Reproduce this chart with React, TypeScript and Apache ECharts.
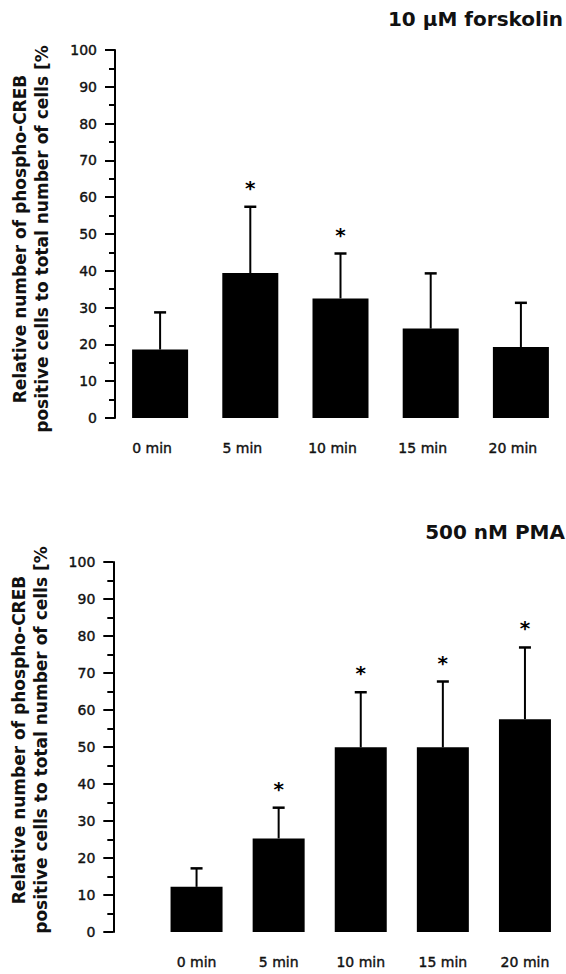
import React, { useEffect, useRef } from "react";
import * as echarts from "echarts";

const categories = ["0 min", "5 min", "10 min", "15 min", "20 min"];
const forskolinMean = [18.6, 39.4, 32.5, 24.3, 19.3];
const forskolinErrTop = [28.7, 57.4, 44.7, 39.3, 31.3];
const forskolinSig = [0, 1, 1, 0, 0];
const pmaMean = [12.2, 25.3, 49.9, 49.9, 57.5];
const pmaErrTop = [17.2, 33.6, 64.8, 67.7, 76.9];
const pmaSig = [0, 1, 1, 1, 1];
const yMin = 0;
const yMax = 100;
const yInterval = 10;
const panelTitles = ["10 µM forskolin", "500 nM PMA"];
const yTitleLines = [
  "Relative number of phospho-CREB",
  "positive cells to total number of cells [%",
];

const FONT = '"DejaVu Sans", "Liberation Sans", sans-serif';

function errorSeries(mean: number[], top: number[], sig: number[], idx: number) {
  return {
    type: "custom",
    xAxisIndex: idx,
    yAxisIndex: idx,
    z: 5,
    data: mean.map((m, i) => [i, m, top[i], sig[i]]),
    renderItem: (params: any, api: any) => {
      const i = api.value(0);
      const m = api.value(1);
      const t = api.value(2);
      const s = api.value(3);
      const p0 = api.coord([i, m]);
      const p1 = api.coord([i, t]);
      const children: any[] = [
        {
          type: "line",
          shape: { x1: p0[0], y1: p0[1], x2: p1[0], y2: p1[1] },
          style: { stroke: "#000", lineWidth: 2 },
        },
        {
          type: "line",
          shape: { x1: p1[0] - 6, y1: p1[1], x2: p1[0] + 6, y2: p1[1] },
          style: { stroke: "#000", lineWidth: 2.5 },
        },
      ];
      if (s) {
        children.push({
          type: "text",
          x: p1[0],
          y: p1[1] - 19,
          style: {
            text: "*",
            fill: "#000",
            fontSize: 20,
            fontWeight: "bold",
            fontFamily: FONT,
            align: "center",
            verticalAlign: "middle",
          },
        });
      }
      return { type: "group", children };
    },
  };
}

const labelStyle = {
  color: "#111",
  fontSize: 14,
  fontFamily: FONT,
  textBorderColor: "#111",
  textBorderWidth: 0.4,
};

function yAxisCfg(idx: number, offset: number) {
  return {
    type: "value",
    gridIndex: idx,
    min: yMin,
    max: yMax,
    interval: yInterval,
    offset,
    axisLine: { show: true, lineStyle: { color: "#000", width: 2 } },
    axisTick: { show: true, length: 10, lineStyle: { color: "#000", width: 2 } },
    minorTick: { show: true, splitNumber: 2, length: 6, lineStyle: { color: "#000", width: 2 } },
    splitLine: { show: false },
    axisLabel: { ...labelStyle, margin: 18 },
  };
}

function xAxisCfg(idx: number, padding: number[]) {
  return {
    type: "category",
    gridIndex: idx,
    data: categories,
    axisLine: { show: false },
    axisTick: { show: false },
    axisLabel: { ...labelStyle, margin: 23, padding },
  };
}

function titleText(text: string, x: number, y: number) {
  return {
    type: "text",
    x,
    y,
    style: {
      text,
      fill: "#111",
      fontSize: 20,
      fontWeight: "bold",
      fontFamily: FONT,
      align: "right",
      verticalAlign: "middle",
    },
  };
}

function yTitleText(x: number, y: number) {
  return {
    type: "text",
    x,
    y,
    rotation: Math.PI / 2,
    style: {
      text: yTitleLines.join("\n"),
      fill: "#111",
      fontSize: 17,
      lineHeight: 22,
      fontWeight: "bold",
      fontFamily: FONT,
      align: "center",
      verticalAlign: "middle",
    },
  };
}

export default function App() {
  const ref = useRef<HTMLDivElement>(null);
  useEffect(() => {
    if (!ref.current) return;
    const chart = echarts.init(ref.current, null, { renderer: "svg" });
    chart.setOption({
      animation: false,
      backgroundColor: "#fff",
      grid: [
        { left: 115, top: 50, width: 467, height: 368 },
        { left: 155.5, top: 562, width: 428.5, height: 370 },
      ],
      xAxis: [xAxisCfg(0, [0, 16, 0, 0]), xAxisCfg(1, [0, 0, 0, 0])],
      yAxis: [yAxisCfg(0, 0), yAxisCfg(1, 42.2)],
      graphic: [
        titleText(panelTitles[0], 563, 19),
        titleText(panelTitles[1], 565, 532),
        yTitleText(31, 239),
        yTitleText(30, 740),
      ],
      series: [
        {
          type: "bar",
          xAxisIndex: 0,
          yAxisIndex: 0,
          data: forskolinMean,
          barWidth: 56,
          itemStyle: { color: "#000" },
        },
        errorSeries(forskolinMean, forskolinErrTop, forskolinSig, 0),
        {
          type: "bar",
          xAxisIndex: 1,
          yAxisIndex: 1,
          data: pmaMean,
          barWidth: 52,
          itemStyle: { color: "#000" },
        },
        errorSeries(pmaMean, pmaErrTop, pmaSig, 1),
      ],
    });
    return () => chart.dispose();
  }, []);
  return (
    <div
      ref={ref}
      style={{ position: "fixed", left: 0, top: 0, width: 566, height: 974, background: "#fff" }}
    />
  );
}
